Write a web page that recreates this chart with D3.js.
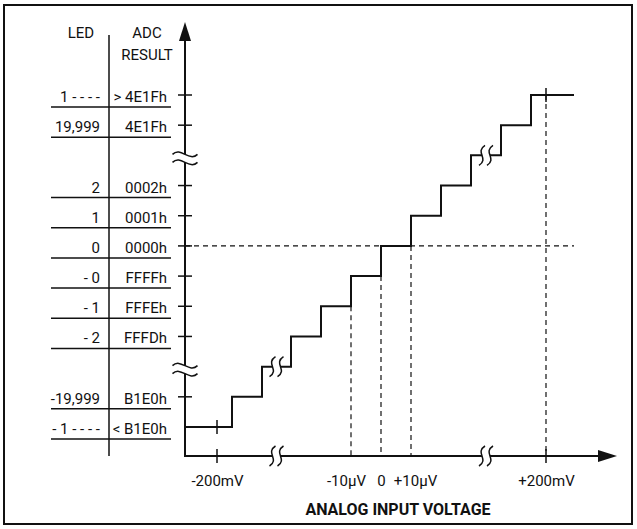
<!DOCTYPE html>
<html><head><meta charset="utf-8">
<script src="https://cdn.jsdelivr.net/npm/d3@7"></script>
<style>
html,body{margin:0;padding:0;background:#fff;}
text{font-family:Roboto,'Liberation Sans',sans-serif;fill:#111;}
</style></head>
<body>
<svg id="c" width="637" height="529"></svg>
<script>
// ---- data (bottom level first) ----
const adcCodes   = ["< B1E0h","B1E0h","","FFFDh","FFFEh","FFFFh","0000h","0001h","0002h","","4E1Fh","> 4E1Fh"];
const ledValues  = ["- 1 - - - -","-19,999","","- 2","- 1","- 0","0","1","2","","19,999","1 - - - -"];
const breakLevels = [2, 9];
// input voltage (µV) at which the output code steps up to the next level
const transitionsUV = [-199995, -199985, -30, -20, -10, 0, 10, 20, 30, 199985, 199995];
const xTickValuesUV = [-200000, -10, 0, 10, 200000];
const xTickLabels   = ["-200mV", "-10µV", "0", "+10µV", "+200mV"];
const xBreakDomain  = [-200000, -199985, -30, 30, 199985, 200000];
const headerLED = ["LED"];
const headerADC = ["ADC", "RESULT"];
const xTitle = "ANALOG INPUT VOLTAGE";

// ---- layout ----
const svg = d3.select("#c");
const ink = "#111";
const axisX = 185, axisY = 456, axisTop = 22, axisRight = 617, stepRight = 574;
const tableLeft = 51, tableDiv = 109, tableRight = 171;
const fs = 15;

const x = d3.scaleLinear().domain(xBreakDomain).range([217, 262, 291, 471, 501, 546]);
const y = d3.scaleLinear().domain([0, adcCodes.length - 1]).range([427, 95]);

// frame
svg.append("rect").attr("x",4).attr("y",5).attr("width",628).attr("height",519)
  .attr("fill","none").attr("stroke",ink).attr("stroke-width",2);

// ---- table ----
svg.append("line").attr("x1",tableDiv).attr("x2",tableDiv).attr("y1",35).attr("y2",axisY)
  .attr("stroke",ink).attr("stroke-width",1.5);
svg.append("text").attr("x",81).attr("y",38).attr("text-anchor","middle").attr("font-size",fs).text(headerLED[0]);
headerADC.forEach((t,i)=>svg.append("text").attr("x",147).attr("y",38+i*22).attr("text-anchor","middle").attr("font-size",fs).text(t));

const rows = adcCodes.map((c,i)=>({i, code:c, led:ledValues[i]})).filter(d=>d.code!=="");
const rowG = svg.append("g");
rowG.selectAll("line.u").data(rows).join("line")
  .attr("x1",tableLeft).attr("x2",tableRight)
  .attr("y1",d=>y(d.i)+12).attr("y2",d=>y(d.i)+12)
  .attr("stroke",ink).attr("stroke-width",1.5);
rowG.selectAll("text.code").data(rows).join("text")
  .attr("x",167).attr("y",d=>y(d.i)+7).attr("text-anchor","end").attr("font-size",fs)
  .text(d=>d.code);
rowG.selectAll("text.led").data(rows).join("text")
  .attr("x",100).attr("y",d=>y(d.i)+7).attr("text-anchor","end").attr("font-size",fs)
  .text(d=>d.led);

// ---- dashed guides ----
const dash = "5,4";
const zeroLevel = adcCodes.indexOf("0000h");
svg.append("line").attr("x1",axisX).attr("x2",stepRight).attr("y1",y(zeroLevel)).attr("y2",y(zeroLevel))
  .attr("stroke",ink).attr("stroke-width",1.2).attr("stroke-dasharray",dash);
[-10, 0, 10].forEach(v=>{
  const k = transitionsUV.indexOf(v);
  svg.append("line").attr("x1",x(v)).attr("x2",x(v)).attr("y1",y(k)).attr("y2",axisY)
    .attr("stroke",ink).attr("stroke-width",1.2).attr("stroke-dasharray",dash);
});
svg.append("line").attr("x1",x(200000)).attr("x2",x(200000)).attr("y1",y(adcCodes.length-1)).attr("y2",axisY)
  .attr("stroke",ink).attr("stroke-width",1.2).attr("stroke-dasharray",dash);

// ---- staircase ----
let pts = [[axisX, y(0)]];
transitionsUV.forEach((t,i)=>{ pts.push([x(t), y(i)]); pts.push([x(t), y(i+1)]); });
pts.push([stepRight, y(adcCodes.length-1)]);
svg.append("path").attr("d", d3.line()(pts)).attr("fill","none").attr("stroke",ink)
  .attr("stroke-width",2).attr("stroke-linejoin","miter");

// ---- axes ----
svg.append("line").attr("x1",axisX).attr("x2",axisX).attr("y1",axisY+1).attr("y2",axisTop+16)
  .attr("stroke",ink).attr("stroke-width",2);
svg.append("line").attr("x1",axisX).attr("x2",axisRight-16).attr("y1",axisY).attr("y2",axisY)
  .attr("stroke",ink).attr("stroke-width",2);
svg.append("path").attr("d",`M${axisX},${axisTop} L${axisX-6},${axisTop+19} L${axisX+6},${axisTop+19} Z`).attr("fill",ink);
svg.append("path").attr("d",`M${axisRight},${axisY} L${axisRight-19},${axisY-6} L${axisRight-19},${axisY+6} Z`).attr("fill",ink);

// y ticks
const yTicks = adcCodes.map((c,i)=>i).filter(i=>adcCodes[i]!=="" && i>0);
svg.selectAll("line.yt").data(yTicks).join("line")
  .attr("x1",axisX-7).attr("x2",axisX+7).attr("y1",d=>y(d)).attr("y2",d=>y(d))
  .attr("stroke",ink).attr("stroke-width",1.5);

// x axis labels via d3.axisBottom
const xa = d3.axisBottom(x).tickValues(xTickValuesUV).tickSize(0).tickPadding(0)
  .tickFormat((d,i)=>xTickLabels[i]);
const gx = svg.append("g").attr("transform",`translate(0,${axisY})`).call(xa);
gx.select(".domain").remove();
gx.selectAll("text").attr("y",30).attr("dy",0).attr("font-size",fs).attr("fill",ink)
  .attr("font-family","Roboto,'Liberation Sans',sans-serif")
  .attr("dx",(d)=> d===-10 ? -5 : d===10 ? 4 : 0);
[[-200000,axisY],[200000,axisY],[-200000,y(0)],[200000,y(adcCodes.length-1)]].forEach(([v,yy])=>{
  svg.append("line").attr("x1",x(v)).attr("x2",x(v)).attr("y1",yy-7).attr("y2",yy+7)
    .attr("stroke",ink).attr("stroke-width",1.5);
});

// ---- break symbols ----
function tildeBreak(cx, cy){
  const w=25, a=4, g=8;
  const wave = (yy)=>`M${cx-w/2},${yy} C${cx-w/6},${yy-2*a} ${cx+w/6},${yy+2*a} ${cx+w/2},${yy}`;
  const fill = `M${cx-w/2},${cy-g/2} C${cx-w/6},${cy-g/2-2*a} ${cx+w/6},${cy-g/2+2*a} ${cx+w/2},${cy-g/2} L${cx+w/2},${cy+g/2} C${cx+w/6},${cy+g/2+2*a} ${cx-w/6},${cy+g/2-2*a} ${cx-w/2},${cy+g/2} Z`;
  svg.append("path").attr("d",fill).attr("fill","#fff");
  [cy-g/2, cy+g/2].forEach(yy=>svg.append("path").attr("d",wave(yy)).attr("fill","none").attr("stroke",ink).attr("stroke-width",1.5));
}
function sBreak(cx, cy){
  const h=20, a=3, g=8;
  const s = (xx)=>`M${xx+a},${cy-h/2} C${xx-2.5*a},${cy-h/6} ${xx+2.5*a},${cy+h/6} ${xx-a},${cy+h/2}`;
  const x0=cx-g/2, x1=cx+g/2;
  const fill = `M${x0+a},${cy-h/2} C${x0-2.5*a},${cy-h/6} ${x0+2.5*a},${cy+h/6} ${x0-a},${cy+h/2} L${x1-a},${cy+h/2} C${x1+2.5*a},${cy+h/6} ${x1-2.5*a},${cy-h/6} ${x1+a},${cy-h/2} Z`;
  svg.append("path").attr("d",fill).attr("fill","#fff");
  [x0,x1].forEach(xx=>svg.append("path").attr("d",s(xx)).attr("fill","none").attr("stroke",ink).attr("stroke-width",1.5));
}
breakLevels.forEach(l=>{
  tildeBreak(axisX, y(l)+3);
  const mid = (x(transitionsUV[l-1]) + x(transitionsUV[l]))/2;
  sBreak(mid, y(l));
});
[[xBreakDomain[1],xBreakDomain[2]],[xBreakDomain[3],xBreakDomain[4]]].forEach(([a,b])=>{
  sBreak((x(a)+x(b))/2, axisY);
});

// title
svg.append("text").attr("x",398).attr("y",515).attr("text-anchor","middle")
  .attr("font-size",16).attr("font-weight","bold").text(xTitle);
</script>
</body></html>
